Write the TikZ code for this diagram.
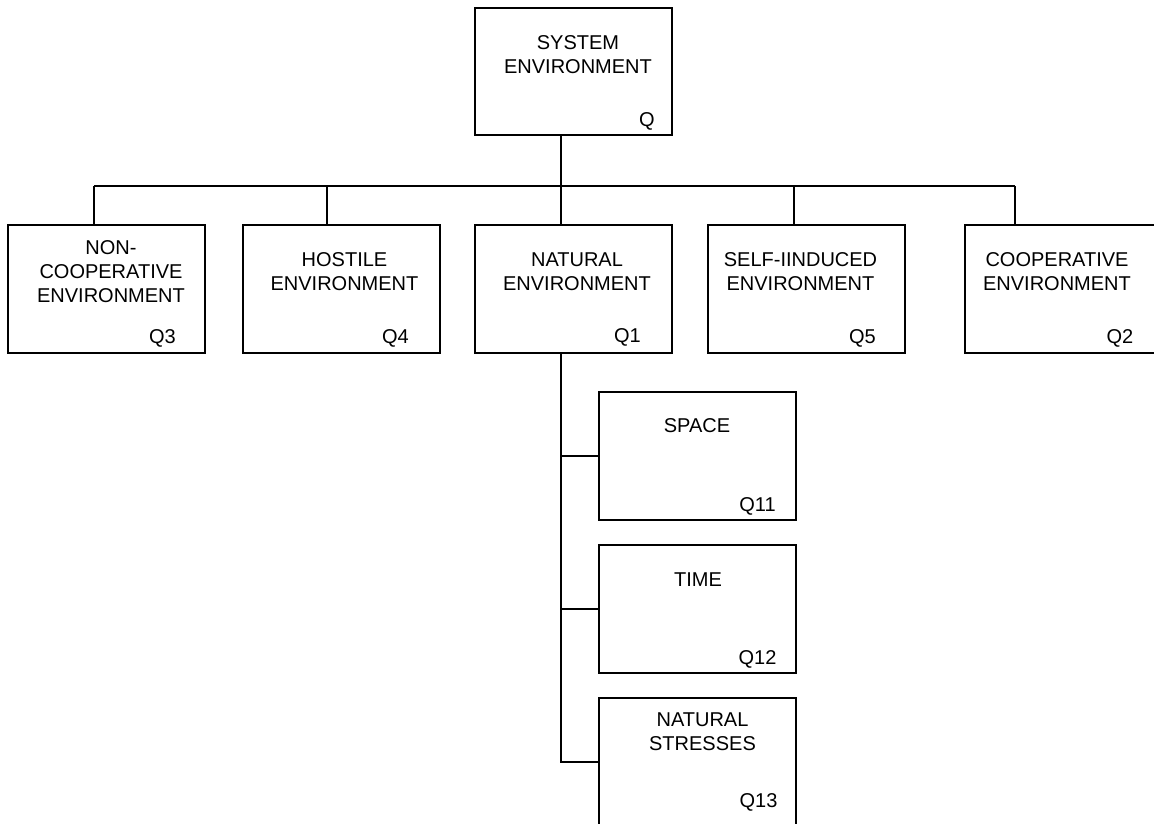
\documentclass[tikz,border=0pt]{standalone}
\usepackage{fontspec}
\setmainfont{Liberation Sans}
\begin{document}
\begin{tikzpicture}[x=1pt,y=-1pt,
  box/.style={draw, line width=1.6pt, minimum width=197pt, minimum height=128pt, inner sep=0pt, anchor=north west},
  txt/.style={inner sep=0pt, align=center, font=\fontsize{20}{24}\selectfont},
  qlab/.style={inner sep=0pt, text depth=0pt, font=\fontsize{20}{24}\selectfont},
  conn/.style={line width=1.6pt}]
\useasboundingbox (0,0) rectangle (1154,824);
\fill[white] (0,0) rectangle (1154,824);
\clip (0,0) rectangle (1154,824);

% boxes
\node[box, minimum height=127pt] (sys) at (474,7) {};
\node[box] (n1) at (7,224) {};
\node[box] (n2) at (242,224) {};
\node[box] (n3) at (474,224) {};
\node[box] (n4) at (707,224) {};
\node[box] (n5) at (964,224) {};
\node[box] (c1) at (598,391) {};
\node[box] (c2) at (598,544) {};
\node[box] (c3) at (598,697) {};

% texts
\node[txt] (tsys) at (578,54.5) {SYSTEM\\ENVIRONMENT};
\node[txt] (t1) at (111,272) {NON-\\COOPERATIVE\\ENVIRONMENT};
\node[txt] (t2) at (344.5,271.5) {HOSTILE\\ENVIRONMENT};
\node[txt] (t3) at (577,271.5) {NATURAL\\ENVIRONMENT};
\node[txt] (t4) at (800.5,271.5) {SELF-IINDUCED\\ENVIRONMENT};
\node[txt] (t5) at (1057,271.5) {COOPERATIVE\\ENVIRONMENT};
\node[txt] (tc1) at (697,426) {SPACE};
\node[txt] (tc2) at (698,579.5) {TIME};
\node[txt] (tc3) at (702.5,732) {NATURAL\\STRESSES};

% Q labels
\node[qlab] (qsys) at (647,120) {Q};
\node[qlab] (q1) at (162.5,337) {Q3};
\node[qlab] (q2) at (395.5,337) {Q4};
\node[qlab] (q3) at (627.5,336) {Q1};
\node[qlab] (q4) at (862.5,337) {Q5};
\node[qlab] (q5) at (1120,337) {Q2};
\node[qlab] (qc1) at (757.5,505) {Q11};
\node[qlab] (qc2) at (757.5,658) {Q12};
\node[qlab] (qc3) at (758.5,801) {Q13};

% connector points
\coordinate (d1) at (94,186);
\coordinate (d2) at (327,186);
\coordinate (d3) at (561,186);
\coordinate (d4) at (794,186);
\coordinate (d5) at (1015,186);

\draw[conn] (sys.south -| d3) -- (d3);
\draw[conn] (d1) -- (d5);
\draw[conn] (d1) -- (d1 |- n1.north);
\draw[conn] (d2) -- (d2 |- n2.north);
\draw[conn] (d3) -- (d3 |- n3.north);
\draw[conn] (d4) -- (d4 |- n4.north);
\draw[conn] (d5) -- (d5 |- n5.north);

\draw[conn] (n3.south -| d3) -- (c3.west -| d3) -- (c3.west);
\draw[conn] (c1.west -| d3) -- (c1.west);
\draw[conn] (c2.west -| d3) -- (c2.west);
\end{tikzpicture}
\end{document}
